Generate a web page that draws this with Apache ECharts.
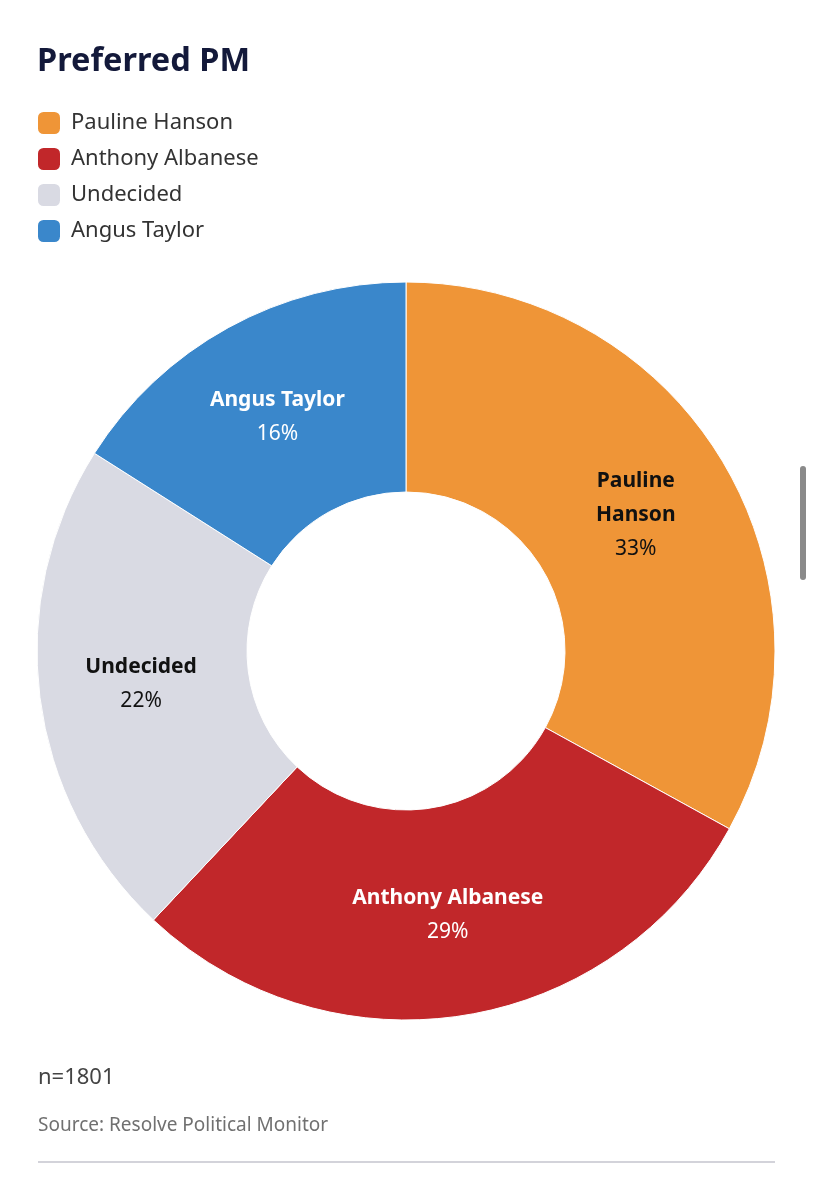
<!DOCTYPE html>
<html>
<head>
<meta charset="utf-8">
<script src="https://cdn.jsdelivr.net/npm/echarts@6/dist/echarts.min.js"></script>
<style>
  html, body { margin: 0; padding: 0; background: #fff; }
  #chart { width: 813px; height: 1200px; }
</style>
</head>
<body>
<div id="chart"></div>
<script>
const categories = ['Pauline Hanson', 'Anthony Albanese', 'Undecided', 'Angus Taylor'];
const sliceLabels = ['Pauline\nHanson', 'Anthony Albanese', 'Undecided', 'Angus Taylor'];
const values = [33, 29, 22, 16];
const colors = ['#EF9537', '#C1272A', '#D9DAE3', '#3A87CB'];
const labelColors = ['#111111', '#ffffff', '#111111', '#ffffff'];
const sampleNote = 'n=1801';
const sourceNote = 'Source: Resolve Political Monitor';

const FONT = '"Noto Sans", "Open Sans", sans-serif';

const chart = echarts.init(document.getElementById('chart'), null, { renderer: 'canvas' });

const data = categories.map((name, i) => ({
  name: name,
  value: values[i],
  itemStyle: { color: colors[i] },
  label: {
    formatter: '{n|' + sliceLabels[i].split('\n').join('}\n{n|') + '}\n{p|' + values[i] + '%}',
    rich: {
      n: { fontSize: 21, fontWeight: 'bold', color: labelColors[i], fontFamily: FONT, lineHeight: 34 },
      p: { fontSize: 21, color: labelColors[i], fontFamily: FONT, lineHeight: 34 }
    }
  }
}));

chart.setOption({
  animation: false,
  backgroundColor: '#ffffff',
  title: {
    text: 'Preferred PM',
    left: 32,
    top: 40,
    textStyle: { fontSize: 32.5, fontWeight: 'bold', color: '#13193A', fontFamily: FONT }
  },
  legend: {
    orient: 'vertical',
    left: 38,
    top: 112,
    padding: 0,
    itemWidth: 22,
    itemHeight: 22,
    itemGap: 14,
    icon: 'roundRect',
    itemStyle: { borderWidth: 0 },
    data: categories,
    textStyle: { fontSize: 22, color: '#333333', fontFamily: FONT, padding: [0, 0, 0, 6] }
  },
  series: [{
    type: 'pie',
    center: [406, 651],
    radius: [159, 369],
    startAngle: 90,
    clockwise: true,
    avoidLabelOverlap: false,
    itemStyle: { borderColor: '#ffffff', borderWidth: 1 },
    label: { show: true, position: 'inside', align: 'center' },
    labelLine: { show: false },
    emphasis: { disabled: true },
    data: data
  }],
  graphic: [
    { type: 'text', left: 38, top: 1067, style: { text: sampleNote, fontSize: 22, fill: '#444444', fontFamily: FONT } },
    { type: 'text', left: 38, top: 1116, style: { text: sourceNote, fontSize: 19, fill: '#707070', fontFamily: FONT } },
    { type: 'line', shape: { x1: 38, y1: 1162, x2: 775, y2: 1162 }, style: { stroke: '#D3D3DA', lineWidth: 2 } },
    { type: 'rect', shape: { x: 800, y: 466, width: 6, height: 114, r: 3 }, style: { fill: '#8A8A8A' } }
  ]
});
</script>
</body>
</html>
